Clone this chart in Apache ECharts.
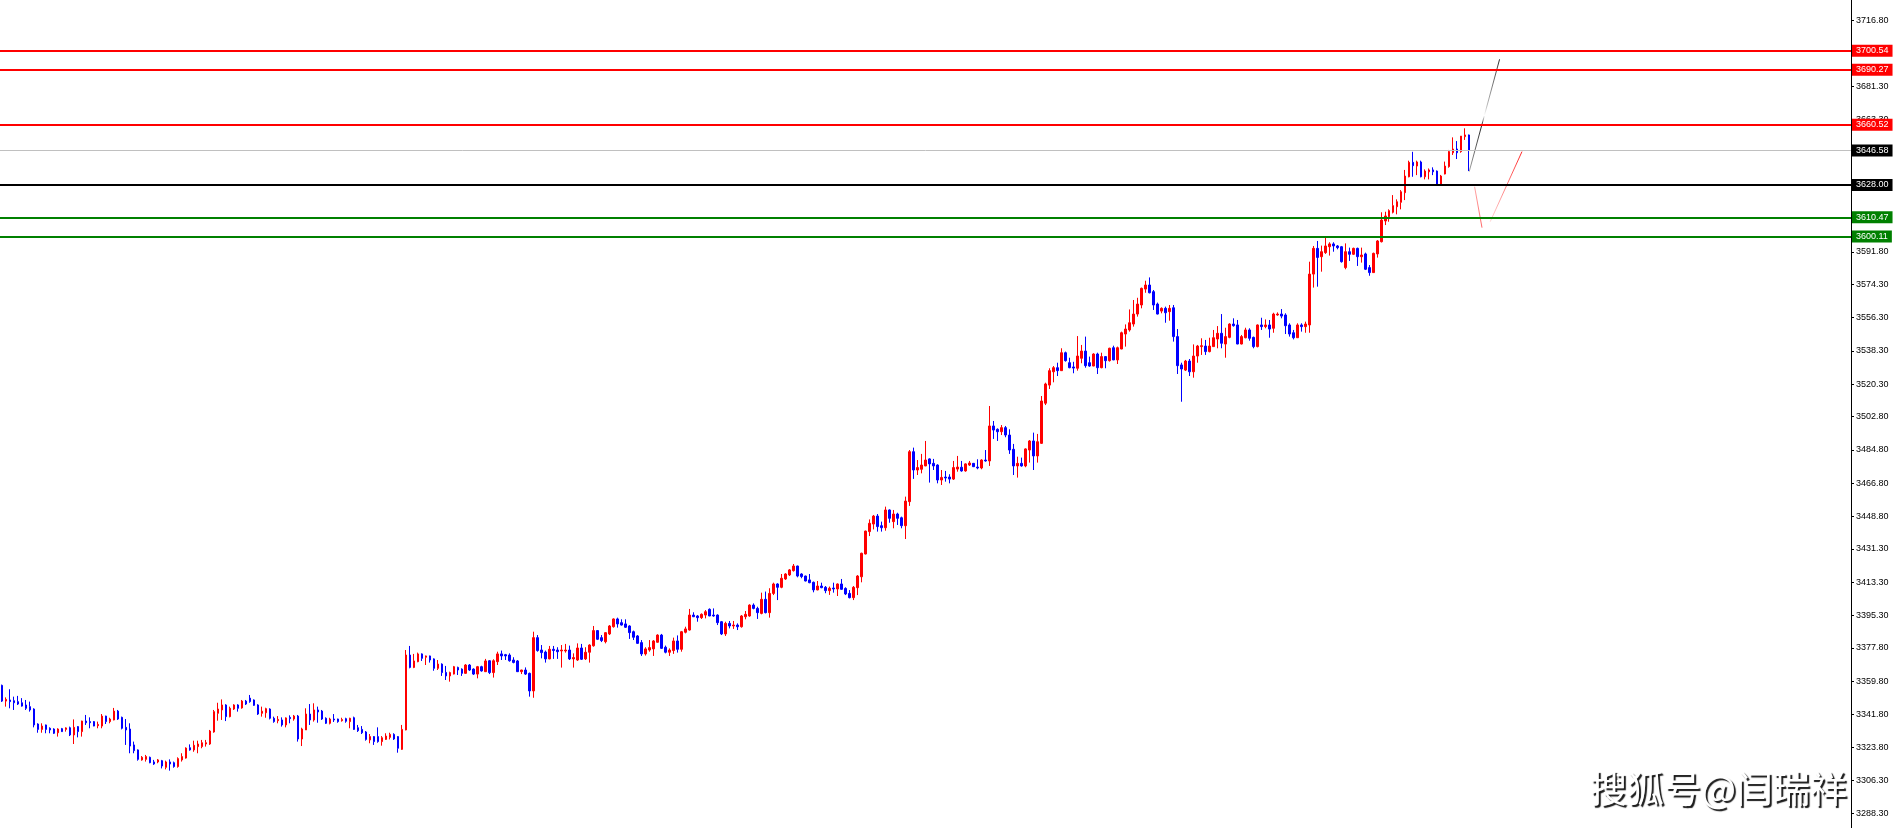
<!DOCTYPE html>
<html>
<head>
<meta charset="utf-8">
<title>Chart</title>
<script src="https://cdn.jsdelivr.net/npm/echarts@6/dist/echarts.min.js"></script>
<style>
html,body{margin:0;padding:0;background:#fff;}
#chart{width:1893px;height:828px;}
</style>
</head>
<body>
<div id="chart"></div>
<script>
// Each candle: [open, high, low, close]
const candles = [
[3357.5,3357.9,3348.5,3349.0],[3349.0,3351.0,3346.0,3349.9],[3349.6,3355.4,3345.1,3348.7],[3349.2,3351.4,3344.2,3348.1],
[3348.7,3351.8,3346.9,3347.4],[3348.1,3350.6,3346.0,3346.3],[3346.9,3349.6,3344.2,3345.1],[3346.0,3348.7,3343.3,3344.2],
[3344.7,3345.1,3334.8,3336.1],[3336.6,3337.0,3331.9,3333.7],[3333.7,3337.0,3331.9,3335.5],[3336.1,3336.3,3331.6,3333.7],
[3334.3,3334.8,3331.6,3333.4],[3333.9,3334.3,3331.2,3331.6],[3331.9,3334.3,3329.8,3333.9],[3334.1,3334.5,3332.3,3332.5],
[3333.7,3334.8,3332.5,3334.5],[3334.6,3335.2,3330.1,3330.7],[3330.7,3339.1,3325.8,3334.8],[3335.2,3335.5,3329.4,3332.5],
[3332.5,3338.4,3329.8,3338.2],[3338.2,3341.5,3336.1,3337.3],[3337.9,3340.2,3334.3,3337.3],[3337.9,3338.2,3335.4,3335.5],
[3335.7,3337.9,3334.3,3336.4],[3335.5,3342.0,3334.3,3340.9],[3340.9,3341.1,3336.6,3337.9],[3337.9,3340.0,3337.0,3339.3],
[3338.8,3345.3,3338.6,3343.6],[3343.6,3344.2,3338.8,3339.3],[3340.2,3340.6,3333.7,3334.3],[3334.8,3339.3,3325.3,3333.4],
[3333.9,3337.0,3320.8,3324.7],[3325.3,3327.1,3320.8,3322.2],[3322.6,3322.9,3316.8,3317.5],[3317.2,3319.3,3316.8,3318.6],
[3317.5,3319.9,3316.3,3319.0],[3318.6,3319.0,3315.4,3315.7],[3316.1,3317.2,3314.5,3315.0],[3316.1,3317.7,3315.4,3317.2],
[3316.8,3317.2,3312.6,3313.9],[3313.2,3316.8,3312.1,3316.1],[3316.1,3317.5,3311.4,3315.0],[3315.7,3316.3,3313.0,3313.6],
[3313.6,3318.6,3313.0,3317.9],[3317.2,3320.8,3316.3,3319.0],[3318.2,3324.0,3317.9,3323.6],[3323.8,3325.6,3322.2,3322.6],
[3322.6,3327.6,3321.6,3325.1],[3324.4,3327.6,3320.8,3325.8],[3324.4,3328.0,3323.5,3326.5],[3325.8,3328.0,3324.4,3326.5],
[3325.8,3333.4,3325.3,3332.8],[3332.3,3344.2,3331.9,3343.3],[3342.4,3348.1,3338.4,3344.7],[3344.2,3349.9,3338.8,3346.9],
[3346.9,3347.3,3338.2,3340.6],[3340.6,3346.0,3340.2,3345.1],[3344.7,3347.3,3344.2,3346.9],[3346.9,3347.3,3343.3,3345.1],
[3345.3,3349.6,3344.9,3349.0],[3349.0,3349.6,3346.9,3347.4],[3350.6,3352.3,3348.1,3348.7],[3349.6,3349.9,3346.4,3346.7],
[3346.9,3347.3,3341.5,3342.0],[3342.4,3346.0,3340.6,3343.5],[3342.7,3345.4,3340.0,3344.9],[3344.7,3345.1,3339.1,3339.7],
[3339.7,3340.6,3337.3,3337.9],[3338.4,3340.9,3337.0,3339.1],[3338.8,3340.2,3335.2,3336.1],[3336.1,3340.2,3334.8,3339.9],
[3340.2,3341.3,3337.0,3339.5],[3339.3,3341.5,3338.4,3340.9],[3340.9,3341.5,3327.1,3328.5],[3328.5,3334.6,3324.7,3333.9],
[3333.4,3345.1,3333.4,3342.0],[3342.0,3347.4,3336.1,3338.8],[3338.8,3347.8,3337.9,3344.2],[3344.2,3346.0,3337.3,3343.1],
[3343.6,3344.2,3338.8,3339.3],[3339.7,3340.2,3336.6,3337.0],[3337.0,3340.0,3336.4,3339.3],[3339.3,3342.0,3337.7,3338.8],
[3339.3,3339.5,3337.3,3337.9],[3338.4,3340.0,3337.9,3339.0],[3339.5,3340.0,3337.3,3338.1],[3337.9,3340.0,3334.3,3339.7],
[3340.0,3340.6,3333.4,3333.7],[3334.6,3336.1,3332.3,3333.0],[3333.7,3335.5,3331.2,3331.9],[3332.3,3332.8,3327.6,3328.3],
[3328.0,3331.2,3326.2,3329.8],[3329.8,3330.1,3325.3,3327.1],[3329.8,3334.8,3326.5,3327.1],[3327.1,3330.1,3324.9,3329.2],
[3328.3,3331.6,3328.0,3330.1],[3329.4,3331.9,3328.3,3331.0],[3331.0,3331.6,3328.0,3328.5],[3329.8,3330.1,3321.1,3323.5],
[3322.9,3336.1,3322.6,3333.7],[3333.4,3376.6,3333.2,3373.9],[3373.9,3378.8,3366.7,3367.2],[3367.2,3374.5,3366.8,3370.7],
[3370.3,3375.2,3370.0,3374.5],[3374.5,3374.8,3370.7,3372.1],[3372.7,3373.6,3368.5,3373.4],[3373.4,3373.6,3369.8,3371.2],
[3371.8,3372.1,3365.4,3366.7],[3366.7,3371.2,3365.8,3369.0],[3369.0,3369.4,3362.6,3364.4],[3364.5,3368.0,3360.4,3362.6],
[3362.6,3364.9,3359.5,3364.4],[3363.6,3368.0,3363.4,3367.6],[3367.2,3367.6,3363.1,3365.8],[3366.3,3366.7,3362.6,3364.0],
[3364.0,3369.0,3363.8,3368.5],[3368.5,3369.0,3365.3,3365.8],[3366.3,3366.7,3363.1,3363.6],[3363.6,3368.0,3361.3,3367.6],
[3367.6,3368.1,3364.9,3365.3],[3364.9,3371.8,3364.7,3370.7],[3370.8,3371.2,3363.6,3364.4],[3364.4,3371.6,3361.7,3370.8],
[3370.3,3375.7,3368.5,3374.5],[3374.5,3376.3,3371.2,3373.4],[3374.1,3374.5,3371.2,3373.4],[3373.9,3374.8,3370.3,3370.8],
[3371.2,3372.7,3369.4,3369.9],[3370.7,3371.2,3364.7,3364.9],[3364.9,3365.9,3363.6,3365.8],[3365.8,3367.2,3363.1,3363.6],
[3364.0,3364.4,3351.4,3354.5],[3354.5,3386.5,3350.8,3383.3],[3383.3,3384.7,3375.7,3376.3],[3376.6,3379.3,3372.1,3375.2],
[3375.5,3376.3,3369.8,3371.8],[3371.8,3378.8,3371.6,3377.0],[3377.0,3378.8,3371.8,3376.3],[3376.6,3378.1,3371.8,3375.7],
[3376.1,3379.3,3367.1,3376.6],[3376.1,3379.9,3375.2,3376.6],[3376.6,3379.0,3371.2,3371.8],[3371.8,3374.8,3367.1,3372.5],
[3371.2,3380.2,3370.7,3377.7],[3377.7,3379.9,3371.2,3371.6],[3371.8,3378.1,3371.2,3375.4],[3375.4,3379.7,3369.8,3379.3],
[3378.9,3389.6,3378.4,3387.1],[3387.1,3387.4,3382.0,3382.4],[3383.3,3384.7,3380.9,3381.7],[3381.1,3386.2,3380.2,3386.0],
[3385.3,3390.1,3384.7,3389.6],[3389.2,3393.7,3388.7,3393.4],[3393.4,3394.1,3388.7,3390.7],[3391.4,3393.2,3389.8,3390.1],
[3390.7,3393.2,3388.5,3388.9],[3389.6,3390.0,3382.6,3386.0],[3386.5,3387.1,3382.0,3383.5],[3384.2,3384.7,3379.9,3380.2],
[3380.6,3382.0,3373.4,3374.5],[3374.5,3378.1,3373.6,3377.2],[3376.6,3382.0,3375.7,3377.9],[3377.2,3382.0,3373.4,3381.5],
[3380.8,3385.1,3380.6,3384.7],[3384.7,3385.3,3377.2,3377.5],[3378.1,3379.0,3374.8,3375.4],[3375.4,3377.5,3373.4,3376.6],
[3376.3,3383.3,3374.5,3381.5],[3381.5,3384.5,3375.2,3377.0],[3377.0,3386.9,3375.7,3386.5],[3386.2,3389.2,3385.6,3388.0],
[3387.4,3398.8,3387.1,3395.5],[3395.5,3397.0,3394.4,3394.6],[3395.0,3395.5,3391.9,3394.1],[3394.1,3396.4,3393.4,3395.9],
[3395.5,3398.2,3393.7,3397.3],[3398.6,3399.1,3394.9,3395.0],[3395.5,3399.1,3394.6,3395.0],[3395.5,3395.9,3390.1,3391.4],
[3391.9,3392.3,3384.7,3385.3],[3385.3,3391.9,3384.2,3391.0],[3391.0,3392.3,3388.3,3389.6],[3389.6,3392.3,3388.0,3390.1],
[3390.1,3391.0,3387.4,3389.2],[3389.2,3395.5,3388.7,3395.0],[3394.6,3397.7,3393.2,3395.9],[3395.0,3401.3,3394.6,3400.9],
[3400.9,3401.8,3398.6,3399.1],[3399.1,3400.0,3393.4,3396.8],[3396.4,3407.6,3395.9,3404.0],[3404.0,3408.2,3396.4,3396.8],
[3396.8,3410.0,3394.1,3407.2],[3407.2,3413.0,3406.3,3412.3],[3412.3,3412.7,3403.6,3410.5],[3410.5,3417.7,3410.0,3415.4],
[3415.0,3418.1,3414.5,3417.7],[3417.2,3420.4,3416.6,3419.9],[3419.5,3423.1,3419.0,3422.0],[3422.0,3422.2,3415.9,3416.6],
[3417.7,3418.1,3415.4,3416.3],[3416.6,3416.8,3413.7,3413.9],[3414.5,3417.7,3412.7,3413.0],[3413.2,3413.6,3407.8,3409.1],
[3409.1,3413.9,3408.9,3411.2],[3411.2,3413.0,3410.0,3410.3],[3410.5,3411.2,3407.3,3408.7],[3408.7,3410.9,3406.4,3410.0],
[3410.1,3413.0,3407.6,3409.6],[3409.6,3412.6,3405.8,3412.3],[3412.3,3415.0,3409.2,3409.4],[3409.9,3410.5,3406.3,3406.9],
[3407.2,3409.0,3404.5,3404.9],[3404.9,3411.2,3403.6,3410.5],[3410.3,3417.1,3406.3,3416.6],[3416.2,3429.2,3413.2,3428.9],
[3428.5,3441.1,3428.3,3440.9],[3440.6,3447.2,3438.2,3445.1],[3444.7,3449.6,3441.8,3449.0],[3449.0,3450.1,3440.6,3443.3],
[3443.8,3446.0,3440.6,3442.7],[3442.7,3454.1,3441.1,3452.3],[3452.3,3452.6,3445.4,3447.8],[3446.0,3452.3,3442.4,3450.1],
[3450.1,3450.8,3444.2,3447.8],[3448.1,3448.7,3442.4,3443.8],[3443.8,3459.5,3436.6,3457.1],[3456.8,3484.7,3454.5,3483.8],
[3483.8,3486.0,3469.1,3473.9],[3473.9,3479.3,3471.2,3475.2],[3474.3,3482.6,3472.1,3476.6],[3476.1,3489.6,3476.0,3479.3],
[3479.9,3480.2,3467.1,3477.2],[3477.5,3479.9,3473.9,3476.1],[3476.6,3477.0,3466.7,3468.5],[3468.5,3473.9,3465.8,3469.9],
[3470.1,3473.4,3467.6,3469.6],[3470.1,3471.6,3466.7,3469.0],[3469.0,3478.8,3468.5,3475.2],[3474.4,3481.5,3473.0,3475.5],
[3475.4,3478.8,3473.0,3473.4],[3473.4,3477.5,3473.0,3477.2],[3476.6,3478.8,3476.1,3477.7],[3477.5,3477.7,3475.5,3475.7],
[3475.5,3479.7,3474.3,3475.0],[3475.0,3479.7,3474.3,3479.3],[3479.3,3484.7,3478.4,3478.8],[3478.8,3508.5,3476.1,3497.7],
[3497.7,3500.4,3490.7,3495.5],[3495.9,3496.4,3489.6,3494.6],[3494.6,3498.2,3492.8,3496.8],[3496.8,3497.7,3491.6,3492.8],
[3492.8,3495.9,3482.6,3484.7],[3485.1,3488.0,3471.2,3476.1],[3476.1,3481.1,3469.8,3477.5],[3477.5,3480.6,3475.7,3476.1],
[3476.1,3485.6,3475.4,3485.3],[3484.7,3490.1,3477.9,3489.6],[3489.6,3494.1,3473.9,3481.5],[3481.5,3493.4,3477.9,3489.2],
[3488.3,3513.9,3488.0,3511.2],[3510.0,3521.1,3509.0,3520.4],[3519.8,3528.9,3517.7,3527.6],[3527.0,3530.1,3521.3,3529.2],
[3529.2,3531.9,3524.7,3527.6],[3527.6,3539.7,3527.5,3537.3],[3537.3,3537.9,3532.5,3533.0],[3531.9,3534.6,3528.9,3529.2],
[3529.6,3532.4,3526.2,3529.0],[3528.9,3546.3,3527.6,3535.5],[3534.3,3541.5,3531.6,3538.2],[3538.2,3546.0,3529.2,3530.3],
[3531.9,3535.2,3529.7,3530.1],[3530.1,3537.0,3530.0,3536.6],[3536.6,3537.3,3525.8,3529.2],[3529.2,3537.3,3528.9,3535.2],
[3535.2,3535.5,3528.9,3533.0],[3533.0,3540.0,3532.5,3539.7],[3540.0,3541.1,3533.3,3533.4],[3533.4,3540.6,3531.2,3540.0],
[3539.3,3548.7,3539.2,3548.1],[3547.4,3552.6,3540.6,3550.1],[3549.6,3560.7,3548.7,3553.5],[3552.8,3565.8,3551.4,3558.2],
[3558.2,3567.0,3556.8,3563.6],[3563.1,3572.5,3561.3,3572.1],[3571.7,3576.2,3569.7,3573.9],[3573.9,3578.0,3569.4,3569.7],
[3570.3,3571.2,3560.4,3563.1],[3563.6,3564.4,3558.0,3558.2],[3559.8,3561.8,3558.6,3561.3],[3561.3,3562.2,3553.5,3558.9],
[3559.5,3563.1,3554.6,3561.3],[3561.6,3563.1,3543.3,3546.0],[3546.0,3550.1,3525.8,3530.3],[3530.7,3531.9,3510.8,3528.5],
[3527.9,3533.4,3527.4,3532.8],[3532.8,3533.9,3524.7,3527.0],[3527.0,3541.8,3523.8,3535.5],[3535.5,3541.5,3531.9,3540.9],
[3540.6,3545.1,3536.1,3541.1],[3540.9,3544.2,3536.1,3537.9],[3537.9,3545.4,3537.5,3540.9],[3540.6,3549.6,3540.5,3545.4],
[3544.7,3551.7,3539.7,3547.8],[3547.8,3558.2,3539.7,3542.4],[3542.0,3550.8,3534.6,3546.0],[3545.6,3553.2,3545.1,3552.8],
[3552.8,3555.9,3551.4,3551.9],[3552.3,3555.0,3541.9,3542.0],[3542.0,3546.9,3541.8,3546.0],[3545.4,3550.8,3545.1,3549.6],
[3549.6,3550.5,3543.8,3545.1],[3545.6,3546.0,3539.7,3540.6],[3540.6,3552.6,3540.2,3552.3],[3552.3,3556.2,3549.6,3551.4],
[3551.4,3555.3,3550.5,3552.3],[3552.3,3555.0,3545.4,3550.1],[3550.5,3558.9,3548.1,3558.2],[3557.7,3559.1,3557.3,3558.2],
[3558.2,3560.9,3555.9,3557.1],[3557.7,3558.6,3547.4,3551.9],[3552.3,3553.2,3546.0,3547.4],[3548.1,3549.6,3544.5,3545.4],
[3545.4,3553.2,3545.3,3552.3],[3552.3,3553.2,3548.7,3551.4],[3551.4,3554.1,3548.1,3552.8],[3552.3,3586.5,3548.1,3579.8],
[3579.8,3595.0,3572.5,3593.7],[3593.7,3597.7,3573.0,3588.8],[3589.2,3595.2,3581.1,3591.9],[3591.4,3599.5,3590.7,3595.0],
[3594.6,3597.0,3589.8,3596.1],[3596.1,3597.0,3591.9,3595.0],[3595.0,3595.5,3593.2,3594.1],[3594.6,3595.0,3586.0,3586.5],
[3583.3,3596.4,3582.4,3591.9],[3591.9,3594.1,3586.9,3590.5],[3590.5,3594.1,3590.1,3593.7],[3593.7,3594.1,3584.2,3589.2],
[3589.2,3594.1,3586.0,3590.1],[3590.7,3591.4,3582.0,3582.4],[3583.3,3584.7,3578.9,3580.6],[3580.6,3591.4,3580.5,3591.0],
[3590.7,3598.2,3588.7,3597.7],[3597.3,3613.2,3596.9,3609.0],[3608.5,3613.5,3606.3,3611.2],[3610.8,3614.8,3608.1,3614.1],
[3613.2,3622.5,3612.6,3616.8],[3616.2,3620.2,3612.1,3618.9],[3618.6,3625.2,3614.8,3624.3],[3623.8,3636.1,3619.8,3632.8],
[3632.4,3641.1,3632.1,3640.2],[3640.2,3645.9,3632.4,3638.4],[3638.2,3641.1,3633.3,3640.4],[3640.4,3641.1,3632.1,3632.4],
[3632.4,3636.4,3631.0,3635.5],[3635.1,3636.9,3631.0,3636.1],[3636.1,3637.5,3633.3,3635.1],[3635.5,3635.8,3628.3,3628.5],
[3628.5,3633.4,3628.3,3632.8],[3633.9,3640.6,3633.7,3638.2],[3637.9,3646.9,3637.3,3646.0],[3645.4,3653.7,3644.2,3647.4],
[3647.4,3651.7,3642.0,3645.4],[3646.0,3654.4,3645.4,3654.4],[3654.1,3658.6,3652.3,3655.0],[3655.0,3655.2,3635.5,3646.6]
];

// Price-axis tick labels
const tickLabels = [3716.80,3699.30,3681.30,3663.30,3591.80,3574.30,3556.30,3538.30,3520.30,3502.80,3484.80,
  3466.80,3448.80,3431.30,3413.30,3395.30,3377.80,3359.80,3341.80,3323.80,3306.30,3288.30];

// Horizontal levels
const redLevels = [3700.54, 3690.27, 3660.52];
const blackLevels = [3628.00];
const greenLevels = [3610.47, 3600.11];
const bidLevel = 3646.58;

// Projection strokes in [candle index, price]
const projUp = [[367, 3635.2], [374.6, 3695.9]];
const projDownA = [[368.35, 3627.0], [370.2, 3604.9]];
const projDownB = [[372.25, 3608.1], [380.2, 3646.0]];

const watermark = '搜狐号@闫瑞祥';

const totalSlots = 463;
const categories = Array.from({length: totalSlots}, (_, i) => String(i));
const seriesData = candles.map(c => [c[0], c[3], c[2], c[1]]);

const FONT = 'Liberation Sans';
function levelLine(v, lineColor, width, boxColor) {
  return {
    yAxis: v,
    lineStyle: {color: lineColor, width: width, type: 'solid'},
    label: {backgroundColor: boxColor}
  };
}
const markData = [];
markData.push(levelLine(bidLevel, '#c0c0c0', 1, '#000000'));
redLevels.forEach(v => markData.push(levelLine(v, '#ff0000', 2, '#ff0000')));
blackLevels.forEach(v => markData.push(levelLine(v, '#000000', 2, '#000000')));
greenLevels.forEach(v => markData.push(levelLine(v, '#008000', 2, '#008000')));

const chart = echarts.init(document.getElementById('chart'), null, {renderer: 'canvas'});
chart.setOption({
  animation: false,
  backgroundColor: '#ffffff',
  title: {
    text: watermark,
    left: 1585,
    top: 765,
    textStyle: {
      color: '#ffffff',
      fontSize: 37,
      fontWeight: 'normal',
      fontFamily: 'Noto Sans CJK SC',
      textShadowColor: 'rgba(0,0,0,0.9)',
      textShadowBlur: 1,
      textShadowOffsetX: 2,
      textShadowOffsetY: 2
    }
  },
  grid: {left: -3, right: 42, top: 0, bottom: 0, containLabel: false},
  xAxis: [
    {type: 'category', data: categories, show: false, boundaryGap: true},
    {type: 'value', min: -0.5, max: totalSlots - 0.5, show: false}
  ],
  yAxis: {
    type: 'value',
    position: 'right',
    min: 3280.4,
    max: 3727.95,
    scale: true,
    splitLine: {show: false},
    axisLine: {show: true, onZero: false, lineStyle: {color: '#000000', width: 1}},
    axisTick: {show: true, length: 3, customValues: tickLabels, lineStyle: {color: '#000'}},
    axisLabel: {
      show: true,
      customValues: tickLabels,
      formatter: v => Number(v).toFixed(2),
      color: '#000000',
      fontSize: 9,
      fontFamily: FONT,
      margin: 5
    }
  },
  series: [
    {
      type: 'candlestick',
      data: seriesData,
      barWidth: 2,
      itemStyle: {
        color: '#ff0000',
        color0: '#0000ff',
        borderColor: '#ff0000',
        borderColor0: '#0000ff',
        borderWidth: 1
      },
      markLine: {
        symbol: ['none', 'none'],
        silent: true,
        animation: false,
        label: {
          show: true,
          position: 'end',
          distance: 1,
          formatter: p => Number(p.value).toFixed(2),
          color: '#ffffff',
          fontSize: 9,
          fontFamily: FONT,
          padding: [2, 4, 1, 4]
        },
        data: markData
      }
    },
    {
      type: 'line',
      xAxisIndex: 1,
      data: projUp,
      symbol: 'none',
      silent: true,
      lineStyle: {
        width: 1,
        color: {type: 'linear', x: 0, y: 0, x2: 0, y2: 1, colorStops: [
          {offset: 0, color: '#222'}, {offset: 0.42, color: '#bbb'}, {offset: 0.5, color: '#fff'},
          {offset: 0.58, color: '#222'}, {offset: 1, color: '#aaa'}]}
      }
    },
    {
      type: 'line',
      xAxisIndex: 1,
      data: projDownA,
      symbol: 'none',
      silent: true,
      lineStyle: {
        width: 1,
        color: {type: 'linear', x: 0, y: 0, x2: 0, y2: 1, colorStops: [
          {offset: 0, color: '#ffaaaa'}, {offset: 1, color: '#ff6060'}]}
      }
    },
    {
      type: 'line',
      xAxisIndex: 1,
      data: projDownB,
      symbol: 'none',
      silent: true,
      lineStyle: {
        width: 1,
        color: {type: 'linear', x: 0, y: 0, x2: 0, y2: 1, colorStops: [
          {offset: 0, color: '#ff2020'}, {offset: 1, color: '#ffdddd'}]}
      }
    }
  ]
});
</script>
</body>
</html>
